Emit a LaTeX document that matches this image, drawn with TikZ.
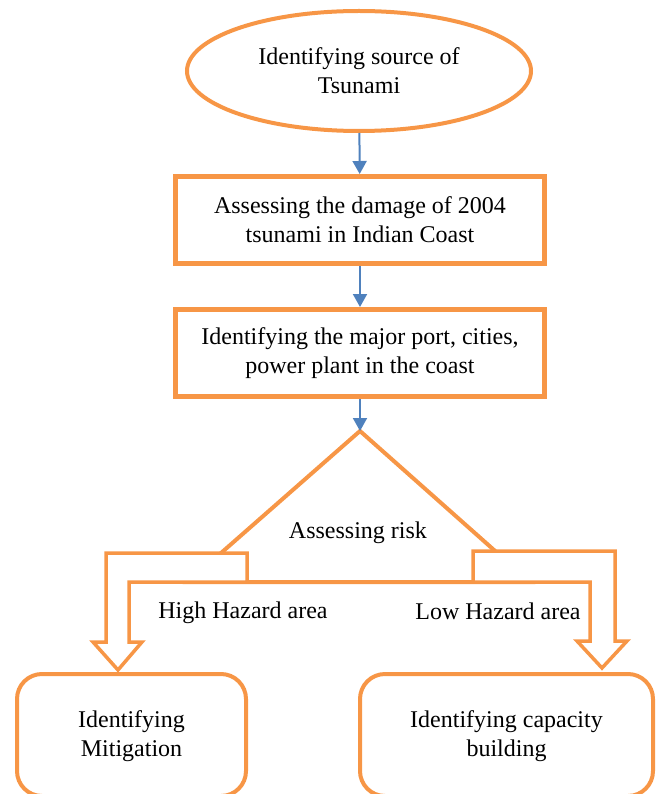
\documentclass[tikz,border=0pt]{standalone}
\usepackage{fontspec}
\setmainfont{Liberation Serif}
\usetikzlibrary{shapes.geometric,arrows.meta}
\definecolor{boxorange}{HTML}{F79646}
\definecolor{arrblue}{HTML}{4F81BD}

\begin{document}
\begin{tikzpicture}[x=1pt,y=-1pt,
	every node/.style={font=\fontsize{24}{29}\selectfont,align=center},
	oval/.style={ellipse,draw=boxorange,line width=4pt,minimum width=344pt,minimum height=120pt},
	flowbox/.style={rectangle,draw=boxorange,line width=5pt,minimum width=369pt,minimum height=87pt},
	endbox/.style={rectangle,rounded corners=25pt,draw=boxorange,line width=4pt},
	blockarr/.style={draw=boxorange,fill=white,line width=3.5pt,line join=miter},
	flowarr/.style={draw=arrblue,line width=2pt,-{Triangle[width=14pt,length=13pt]}}]
	\useasboundingbox (0,0) rectangle (657,794);
	\clip (0,0) rectangle (657,794);

	\node[oval] (source) at (359,71) {Identifying source of\\Tsunami};
	\node[flowbox] (damage) at (360,220) {Assessing the damage of 2004\\tsunami in Indian Coast};
	\node[flowbox] (plants) at (360,353) {Identifying the major port, cities,\\power plant in the coast};

	% risk triangle
	\coordinate (apex) at (360,431);
	\draw[boxorange,line width=4pt,line join=miter] (apex) -- (188,582) -- (530,582) -- cycle;
	\node (risk) at (358,533) {Assessing risk};

	% bent block arrows
	\draw[blockarr] (247,553) -- (106,553) -- (106,642) -- (93,642) -- (118,670)
	-- (142,642) -- (129,642) -- (129,582) -- (247,582) -- cycle;
	\draw[blockarr] (473,551) -- (615,551) -- (615,641) -- (627,641) -- (602,668)
	-- (577,641) -- (590,641) -- (590,582) -- (473,582) -- cycle;
	\node (high) at (243,613) {High Hazard area};
	\node (low) at (498,611) {Low Hazard area};

	\draw[endbox] (17,674) rectangle (246,796);
	\draw[endbox] (360,674) rectangle (653,796);
	\node (mitig) at (131.5,736) {Identifying\\Mitigation};
	\node (capac) at (506.5,736) {Identifying capacity\\building};

	\draw[flowarr] (source) -- (damage);
	\draw[flowarr] (damage) -- (plants);
	\draw[flowarr] (plants) -- (apex);
\end{tikzpicture}
\end{document}
